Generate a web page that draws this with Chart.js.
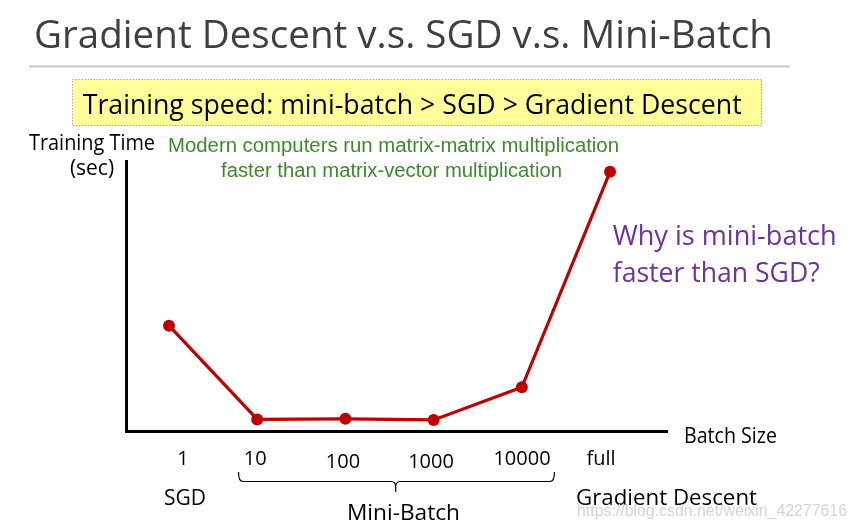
<!DOCTYPE html>
<html><head><meta charset="utf-8">
<script src="https://cdn.jsdelivr.net/npm/chart.js@4.4.1/dist/chart.umd.min.js"></script>
<style>
html,body{margin:0;padding:0;background:#fff;width:856px;height:529px;overflow:hidden}
#wrap{position:relative;width:856px;height:529px}
#c{position:absolute;left:0;top:0}
#s{position:absolute;left:0;top:0}
</style></head><body>
<div id="wrap"><canvas id="c" width="856" height="529"></canvas><svg id="s" width="856" height="529" xmlns="http://www.w3.org/2000/svg"></svg></div>
<script>
// ---- data ----
const categories = ['1', '10', '100', '1000', '10000', 'full'];
const trainingTime = [39.0, 4.3, 4.5, 4.1, 16.2, 96.0];
const groupLabels = ['SGD', 'Mini-Batch', 'Gradient Descent'];
const titleText = 'Gradient Descent v.s. SGD v.s. Mini-Batch';
const speedText = 'Training speed: mini-batch > SGD > Gradient Descent';
const yAxisLabel = ['Training Time', '(sec)'];
const xAxisLabel = 'Batch Size';
const noteLines = ['Modern computers run matrix-matrix multiplication', 'faster than matrix-vector multiplication'];
const questionLines = ['Why is mini-batch', 'faster than SGD?'];
const watermark = 'https://blog.csdn.net/weixin_42277616';

// ---- chart ----
const chart = new Chart(document.getElementById('c'), {
  type: 'line',
  data: {
    datasets: [{
      data: categories.map((c, i) => ({ x: i, y: trainingTime[i] })),
      borderColor: '#c00000',
      backgroundColor: '#c00000',
      borderWidth: 3.2,
      pointRadius: 6,
      pointBackgroundColor: '#c00000',
      pointBorderWidth: 0,
      tension: 0,
      clip: false
    }]
  },
  options: {
    responsive: false,
    animation: false,
    devicePixelRatio: 1,
    layout: { padding: { left: 126, top: 161, right: 189, bottom: 98 } },
    plugins: { legend: { display: false }, tooltip: { enabled: false } },
    events: [],
    scales: {
      x: {
        type: 'linear', min: -0.4875, max: 5.646,
        ticks: { display: false },
        grid: { display: false, drawTicks: false },
        border: { display: true, color: '#000', width: 3 }
      },
      y: {
        type: 'linear', min: 0, max: 100,
        ticks: { display: false },
        grid: { display: false, drawTicks: false },
        border: { display: true, color: '#000', width: 3 }
      }
    }
  }
});

// ---- svg overlay text ----
const svg = document.getElementById('s');
const NS = 'http://www.w3.org/2000/svg';
const SANS = '"Open Sans", Lato, "Noto Sans", sans-serif';
function el(tag, attrs) {
  const e = document.createElementNS(NS, tag);
  for (const k in attrs) e.setAttribute(k, attrs[k]);
  svg.appendChild(e);
  return e;
}
function txt(str, x, y, o) {
  const a = {
    x: x, y: y,
    'font-family': o.family || SANS,
    'font-size': o.size,
    fill: o.color || '#000',
    'text-anchor': o.anchor || 'start'
  };
  if (o.weight) a['font-weight'] = o.weight;
  if (o.len) { a.textLength = o.len; a.lengthAdjust = 'spacingAndGlyphs'; }
  const e = el('text', a);
  e.textContent = str;
  return e;
}

// title + separator
txt(titleText, 34, 48, { size: 39, color: '#3f3f3f', len: 739 });
el('line', { x1: 29, y1: 66.5, x2: 790, y2: 66.5, stroke: '#c8c8c8', 'stroke-width': 2 });

// yellow box
el('rect', { x: 72.5, y: 79.5, width: 689, height: 46, fill: '#ffff99', stroke: '#a8a8a8', 'stroke-width': 1, 'stroke-dasharray': '1.5,1.5' });
txt(speedText, 82.7, 114, { size: 27, len: 659 });

// axis labels
txt(yAxisLabel[0], 29, 149.7, { size: 21, len: 126 });
txt(yAxisLabel[1], 92, 175, { size: 21, anchor: 'middle' });
txt(xAxisLabel, 684, 443, { size: 21, len: 93 });

// green note
txt(noteLines[0], 168, 152, { size: 20, family: '"Liberation Sans", Arial, sans-serif', color: '#3d8a2a', len: 451 });
txt(noteLines[1], 221, 177, { size: 20, family: '"Liberation Sans", Arial, sans-serif', color: '#3d8a2a', len: 341 });

// purple question
txt(questionLines[0], 612.7, 245, { size: 28, color: '#7030a0', len: 224 });
txt(questionLines[1], 612.7, 281.7, { size: 28, color: '#7030a0', len: 207 });

// category labels under the axis, positioned from the x scale
const xs = chart.scales.x;
const bottom = chart.chartArea.bottom;
const tickDx = [14, -2, -2.4, -2.6, 0.2, -9];
const tickDy = [34, 34, 37, 37, 34, 34];
categories.forEach((c, i) => {
  txt(c, xs.getPixelForValue(i) + tickDx[i], bottom + tickDy[i], { size: 20, anchor: 'middle' });
});

// brace under mini-batch
el('path', {
  d: 'M238.5,472 Q238.5,481.5 243,481.5 L391,481.5 Q395.7,481.5 395.7,487 L395.7,492 M395.7,487 Q395.7,481.5 400.4,481.5 L550,481.5 Q554.5,481.5 554.5,472',
  fill: 'none', stroke: '#000', 'stroke-width': 1.2
});

// group labels
txt(groupLabels[0], 164, 505, { size: 22, len: 42 });
txt(groupLabels[1], 347, 520, { size: 22, len: 113 });
txt(groupLabels[2], 576, 505, { size: 22, len: 181 });

// watermark
txt(watermark, 577, 516, { size: 16, family: '"Liberation Sans", Arial, sans-serif', color: '#d4d4d4', len: 270 });
</script>
</body></html>
